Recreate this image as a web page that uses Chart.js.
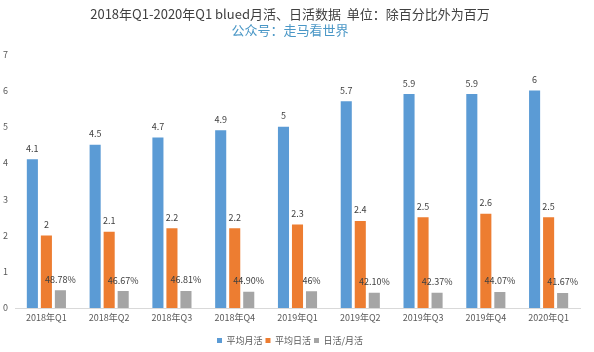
<!DOCTYPE html>
<html>
<head>
<meta charset="utf-8">
<script src="https://cdn.jsdelivr.net/npm/chart.js@4/dist/chart.umd.min.js"></script>
<style>
  html, body { margin: 0; padding: 0; background: #fff; }
  #wrap { width: 594px; height: 352px; }
</style>
</head>
<body>
<div id="wrap"><canvas id="bar-chart" width="594" height="352"></canvas></div>
<script>
const quarters = ['2018年Q1', '2018年Q2', '2018年Q3', '2018年Q4', '2019年Q1', '2019年Q2', '2019年Q3', '2019年Q4', '2020年Q1'];
const monthlyActive = [4.1, 4.5, 4.7, 4.9, 5, 5.7, 5.9, 5.9, 6];
const dailyActive = [2, 2.1, 2.2, 2.2, 2.3, 2.4, 2.5, 2.6, 2.5];
const dailyRatio = [0.4878, 0.4667, 0.4681, 0.449, 0.46, 0.421, 0.4237, 0.4407, 0.4167];
const ratioLabels = ['48.78%', '46.67%', '46.81%', '44.90%', '46%', '42.10%', '42.37%', '44.07%', '41.67%'];
const yMax = 7;

const cjk = "'Noto Sans CJK SC', 'Liberation Sans', sans-serif";

// 柱顶数值标签
const valueLabels = {
  id: 'valueLabels',
  afterDatasetsDraw(chart) {
    const ctx = chart.ctx;
    ctx.save();
    ctx.font = "9px " + cjk;
    ctx.fillStyle = '#404040';
    ctx.textAlign = 'center';
    ctx.textBaseline = 'middle';
    chart.data.datasets.forEach((ds, i) => {
      const meta = chart.getDatasetMeta(i);
      meta.data.forEach((bar, j) => {
        const txt = i === 2 ? ratioLabels[j] : String(ds.data[j]);
        ctx.fillText(txt, bar.x, bar.y - 11);
      });
    });
    ctx.restore();
  }
};

function createBarChart() {
  const ctx = document.getElementById('bar-chart').getContext('2d');
  new Chart(ctx, {
    type: 'bar',
    data: {
      labels: quarters,
      datasets: [
        { label: '平均月活', backgroundColor: '#5b9bd5', data: monthlyActive },
        { label: '平均日活', backgroundColor: '#ed7d31', data: dailyActive },
        { label: '日活/月活', backgroundColor: '#a5a5a5', data: dailyRatio },
      ],
    },
    options: {
      responsive: false,
      animation: false,
      devicePixelRatio: 1,
      layout: { padding: { left: 0, right: 14, top: 0, bottom: -3 } },
      datasets: { bar: { categoryPercentage: 0.67, barPercentage: 0.79 } },
      plugins: {
        title: {
          display: true,
          text: '2018年Q1-2020年Q1 blued月活、日活数据  单位：除百分比外为百万',
          color: '#404040',
          font: { family: cjk, size: 13, weight: 'normal' },
          padding: { top: 6, bottom: 1 },
        },
        subtitle: {
          display: true,
          text: '公众号：走马看世界',
          color: '#4a97c6',
          font: { family: cjk, size: 13, weight: 'normal' },
          padding: { top: 0, bottom: 16 },
        },
        legend: {
          position: 'bottom',
          labels: {
            boxWidth: 5, boxHeight: 5,
            color: '#595959',
            font: { family: cjk, size: 9 },
            padding: 3,
          },
        },
        tooltip: { enabled: false },
      },
      scales: {
        x: {
          afterFit: (s) => { s.height = 25; },
          grid: { display: false, drawTicks: false, tickLength: 0 },
          border: { display: true, color: '#d9d9d9' },
          ticks: { color: '#595959', font: { family: cjk, size: 9 }, padding: 4, maxRotation: 0 },
        },
        y: {
          min: 0, max: yMax,
          afterFit: (s) => { s.width = 15; },
          grid: { display: false, drawTicks: false, tickLength: 0 },
          border: { display: false },
          ticks: { stepSize: 1, color: '#595959', font: { family: cjk, size: 9 }, padding: 7 },
        },
      },
    },
    plugins: [valueLabels],
  });
}

document.addEventListener('DOMContentLoaded', () => {
  createBarChart();
});
</script>
</body>
</html>
